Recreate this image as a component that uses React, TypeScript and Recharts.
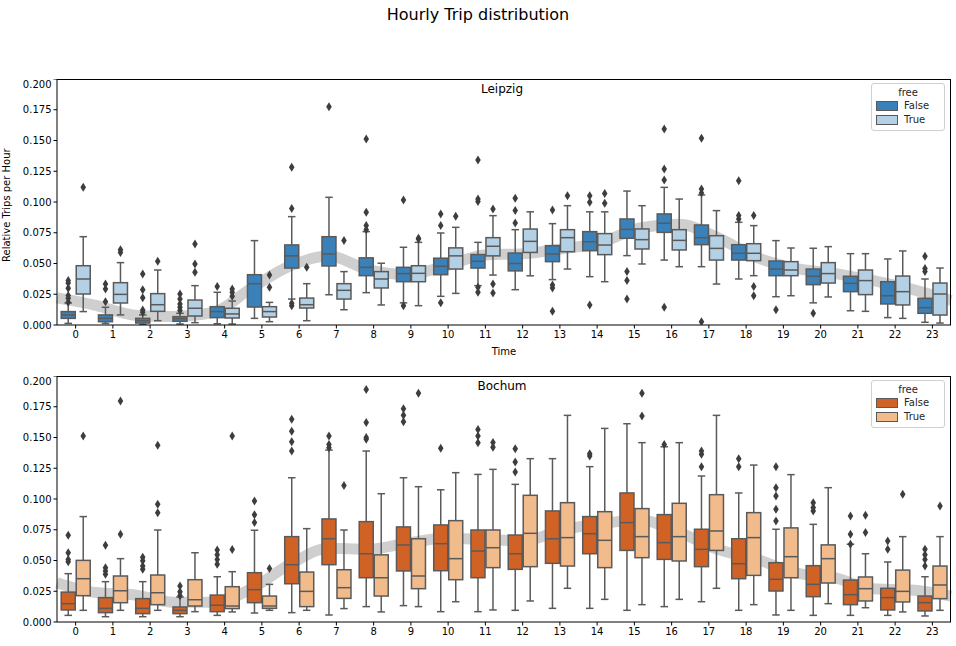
import React from 'react';
import { ComposedChart, Bar, Line, XAxis, YAxis } from 'recharts';

const hours = Array.from({ length: 24 }, (_, i) => String(i));
const yTicks = [0, 0.025, 0.05, 0.075, 0.1, 0.125, 0.15, 0.175, 0.2];

// [whisker low, q1, median, q3, whisker high]
const leipzigFalse = [
  [0.0013, 0.0054, 0.0082, 0.0109, 0.0179], [0.0013, 0.0027, 0.0054, 0.0082, 0.0144], [0.0005, 0.0016, 0.0035, 0.0054, 0.0082],
  [0.0008, 0.003, 0.0051, 0.0068, 0.0095], [0.001, 0.006, 0.0109, 0.0149, 0.0266], [0.0054, 0.0146, 0.0336, 0.0409, 0.0686],
  [0.0211, 0.0463, 0.0562, 0.0651, 0.0881], [0.0246, 0.048, 0.0577, 0.0718, 0.1038], [0.0263, 0.0401, 0.0469, 0.0546, 0.0759],
  [0.018, 0.0352, 0.0418, 0.0469, 0.0632], [0.0233, 0.0409, 0.0477, 0.0543, 0.0748], [0.032, 0.0463, 0.0518, 0.0573, 0.0672],
  [0.0287, 0.044, 0.05, 0.0585, 0.0775], [0.0369, 0.0515, 0.0577, 0.0645, 0.0824], [0.0393, 0.0604, 0.0677, 0.0759, 0.092],
  [0.0564, 0.0705, 0.0778, 0.0862, 0.1089], [0.0528, 0.0753, 0.0827, 0.0903, 0.1119], [0.0474, 0.0653, 0.071, 0.0813, 0.1057],
  [0.0374, 0.0528, 0.0583, 0.0653, 0.0835], [0.023, 0.0401, 0.0455, 0.052, 0.0686], [0.018, 0.0328, 0.0396, 0.0455, 0.0624],
  [0.0116, 0.0271, 0.0339, 0.0396, 0.058], [0.006, 0.0171, 0.0238, 0.0352, 0.0537], [0.0022, 0.0095, 0.0141, 0.0217, 0.0374],
];
const leipzigFalseOut = [
  [0.0184, 0.0217, 0.0239, 0.0299, 0.0342, 0.0361], [0.019, 0.0293, 0.0333], [0.0103, 0.0122, 0.0222, 0.0287, 0.0414],
  [0.0117, 0.0144, 0.0171, 0.0211, 0.0252], [0.0314], [],
  [0.0157, 0.0176, 0.0948, 0.1282], [0.1775], [0.0775, 0.0808, 0.0916, 0.1512],
  [0.0157, 0.1016], [0.018, 0.0808, 0.0902], [0.0266, 0.0306, 0.1005, 0.1024, 0.1341],
  [0.083, 0.093, 0.103], [0.0111, 0.03, 0.0326, 0.0935], [0.0163, 0.0997, 0.105],
  [0.0211, 0.0361, 0.0434], [0.0144, 0.1179, 0.1268, 0.1593], [0.0027, 0.1073, 0.1106, 0.1518],
  [0.0862, 0.089, 0.1173], [0.0124], [0.0095],
  [], [], [0.0434, 0.046, 0.0558],
];
const leipzigTrue = [
  [0.0109, 0.0252, 0.0374, 0.0482, 0.0718], [0.0082, 0.0179, 0.0249, 0.0344, 0.0507], [0.0035, 0.0111, 0.0165, 0.0255, 0.0447],
  [0.0019, 0.0073, 0.0136, 0.0203, 0.032], [0.0008, 0.0057, 0.009, 0.0136, 0.0195], [0.0027, 0.0065, 0.0109, 0.0149, 0.0184],
  [0.0035, 0.0138, 0.0165, 0.0219, 0.0336], [0.0124, 0.0211, 0.0282, 0.0336, 0.0434], [0.0163, 0.0301, 0.0374, 0.0434, 0.0502],
  [0.0157, 0.0352, 0.042, 0.0482, 0.0672], [0.0257, 0.0455, 0.0562, 0.0627, 0.0794], [0.0406, 0.0562, 0.064, 0.071, 0.0889],
  [0.04, 0.059, 0.068, 0.078, 0.092], [0.0455, 0.0596, 0.071, 0.0775, 0.097], [0.0352, 0.0572, 0.065, 0.0743, 0.092],
  [0.0496, 0.0618, 0.0694, 0.0781, 0.097], [0.0474, 0.061, 0.0688, 0.0775, 0.1024], [0.0333, 0.0528, 0.0623, 0.0726, 0.093],
  [0.0401, 0.0523, 0.0583, 0.0661, 0.0808], [0.0238, 0.0401, 0.0447, 0.0515, 0.0626], [0.0228, 0.0341, 0.0418, 0.0507, 0.0637],
  [0.0111, 0.0247, 0.0361, 0.0447, 0.058], [0.0054, 0.0163, 0.0271, 0.0398, 0.0602], [0.0016, 0.0081, 0.0252, 0.0341, 0.0463],
];
const leipzigTrueOut = [
  [0.1119], [0.059, 0.0612], [0.0518], [0.0428, 0.0496, 0.0659], [0.0233, 0.0266, 0.0293], [0.0306, 0.0406],
  [0.0469], [0.0688], [], [0.0699, 0.0705], [0.0884], [0.026, 0.0333, 0.0943],
  [], [0.105], [0.099, 0.107], [], [], [],
  [0.0238, 0.0314, 0.089], [], [], [], [], [],
];
const leipzigMean = [
  0.022, 0.016, 0.008, 0.007, 0.01, 0.03, 0.048, 0.056, 0.045, 0.041, 0.048, 0.057,
  0.058, 0.062, 0.067, 0.079, 0.082, 0.071, 0.055, 0.046, 0.042, 0.036, 0.029, 0.02,
];

const bochumFalse = [
  [0.0054, 0.0098, 0.0149, 0.0243, 0.0393], [0.0043, 0.0076, 0.0111, 0.0198, 0.0328], [0.0043, 0.0068, 0.0111, 0.019, 0.0328],
  [0.0043, 0.0068, 0.0095, 0.0122, 0.0203], [0.0054, 0.0084, 0.0136, 0.0219, 0.0368], [0.0073, 0.0157, 0.0263, 0.0401, 0.0746],
  [0.0076, 0.0311, 0.0466, 0.0694, 0.1173], [0.0057, 0.0466, 0.0677, 0.0838, 0.1398], [0.0125, 0.036, 0.0555, 0.0816, 0.139],
  [0.0133, 0.0415, 0.0626, 0.0773, 0.1173], [0.0084, 0.0417, 0.0637, 0.0789, 0.1075], [0.0084, 0.036, 0.0577, 0.0748, 0.12],
  [0.0095, 0.0428, 0.0555, 0.0707, 0.1119], [0.0111, 0.0477, 0.0677, 0.0903, 0.1328], [0.0111, 0.0555, 0.0718, 0.0857, 0.1263],
  [0.0095, 0.0582, 0.0808, 0.1049, 0.1612], [0.0125, 0.0509, 0.0645, 0.0873, 0.1425], [0.0165, 0.045, 0.0591, 0.0754, 0.1187],
  [0.0095, 0.0352, 0.0474, 0.0677, 0.1049], [0.0057, 0.0252, 0.0347, 0.0482, 0.0754], [0.0054, 0.0206, 0.0306, 0.0458, 0.0794],
  [0.0054, 0.0141, 0.0222, 0.0341, 0.0632], [0.0054, 0.0098, 0.0198, 0.0274, 0.0488], [0.0049, 0.009, 0.0157, 0.0211, 0.0368],
];
const bochumFalseOut = [
  [0.049, 0.0509, 0.0563, 0.0705], [0.0388, 0.0415, 0.0442, 0.0624], [0.0428, 0.0455, 0.0498, 0.0526],
  [0.0214, 0.0245, 0.0292], [0.047, 0.0509, 0.0547, 0.0585], [0.0808, 0.0871, 0.0984],
  [0.139, 0.1465, 0.1551, 0.1648], [0.1417, 0.1444, 0.1512], [0.1485, 0.1499, 0.1621, 0.189],
  [0.1629, 0.168, 0.1734], [0.1412], [0.1458, 0.1512, 0.1566],
  [0.1219, 0.1301, 0.1409], [], [0.1349, 0.1368],
  [], [0.1444], [0.1263, 0.1363, 0.139],
  [0.1263, 0.1328], [0.0821, 0.0916, 0.1024, 0.1092, 0.1263], [0.0903, 0.093, 0.097],
  [0.0632, 0.0713, 0.0862], [0.0591, 0.0659], [0.0455, 0.0509, 0.0547, 0.0591],
];
const bochumTrue = [
  [0.0095, 0.0214, 0.0352, 0.0501, 0.0857], [0.0095, 0.0157, 0.0254, 0.0374, 0.0515], [0.0095, 0.0141, 0.0238, 0.0382, 0.0748],
  [0.0084, 0.013, 0.0181, 0.0344, 0.0563], [0.0082, 0.0109, 0.013, 0.0287, 0.0409], [0.0095, 0.0111, 0.013, 0.0211, 0.0306],
  [0.0095, 0.0125, 0.0249, 0.0406, 0.0759], [0.0109, 0.0192, 0.0279, 0.0425, 0.0748], [0.0082, 0.0211, 0.036, 0.0546, 0.1043],
  [0.0125, 0.0271, 0.0374, 0.0677, 0.11], [0.0165, 0.0344, 0.0515, 0.0824, 0.1214], [0.0098, 0.0442, 0.0604, 0.0748, 0.1241],
  [0.0171, 0.045, 0.0721, 0.103, 0.1328], [0.0274, 0.0455, 0.0686, 0.097, 0.168], [0.0184, 0.0442, 0.0664, 0.0897, 0.1574],
  [0.0141, 0.0523, 0.0694, 0.0922, 0.1458], [0.0184, 0.0496, 0.0694, 0.0965, 0.1458], [0.0274, 0.0582, 0.074, 0.1035, 0.168],
  [0.0141, 0.0379, 0.0686, 0.0889, 0.1276], [0.0095, 0.036, 0.0531, 0.0765, 0.1198], [0.0149, 0.0317, 0.0515, 0.0627, 0.1092],
  [0.0116, 0.0171, 0.0271, 0.0366, 0.0555], [0.0082, 0.0163, 0.0249, 0.0422, 0.0694], [0.0095, 0.019, 0.0301, 0.0455, 0.0694],
];
const bochumTrueOut = [
  [0.1512], [0.0713, 0.1797], [0.0889, 0.0957, 0.1436], [], [0.059, 0.1512], [0.0434],
  [], [0.111], [], [0.1859], [], [0.142, 0.146],
  [], [], [], [0.1675, 0.1859], [], [],
  [], [], [], [0.0727, 0.0868], [0.1038], [0.0943],
];
const bochumMean = [
  0.032, 0.024, 0.022, 0.016, 0.016, 0.027, 0.047, 0.06, 0.059, 0.064, 0.068, 0.067,
  0.066, 0.075, 0.08, 0.083, 0.073, 0.059, 0.051, 0.04, 0.036, 0.027, 0.026, 0.021,
];

const FONT = '"DejaVu Sans", sans-serif';
const EDGE = '#5a5a5a';
const W = 956;
const H = 300;
const MARGIN = { top: 0, right: 5, bottom: 24, left: 12 };

const buildRows = (f: number[][], fo: number[][], t: number[][], to: number[][], mean: number[]) =>
  hours.map((h, i) => ({ hour: h, f: f[i], fo: fo[i], t: t[i], to: to[i], mean: mean[i] }));

const makeBox = (key: 'f' | 't', fill: string) => (props: any) => {
  const { x, y, width, height, payload } = props;
  const st: number[] = payload[key];
  const outs: number[] = payload[key === 'f' ? 'fo' : 'to'];
  const top = Math.min(y, y + height);
  const bot = Math.max(y, y + height);
  const lo = st[0];
  const hi = st[4];
  const py = (v: number) => bot - ((v - lo) * (bot - top)) / (hi - lo);
  const bx = x + 0.5;
  const bw = width - 1;
  const cx = x + width / 2;
  const cap = width / 4;
  return (
    <g>
      <line x1={cx} x2={cx} y1={py(st[0])} y2={py(st[1])} stroke={EDGE} strokeWidth={1.5} />
      <line x1={cx} x2={cx} y1={py(st[3])} y2={py(st[4])} stroke={EDGE} strokeWidth={1.5} />
      <line x1={cx - cap} x2={cx + cap} y1={py(st[0])} y2={py(st[0])} stroke={EDGE} strokeWidth={1.5} />
      <line x1={cx - cap} x2={cx + cap} y1={py(st[4])} y2={py(st[4])} stroke={EDGE} strokeWidth={1.5} />
      <rect x={bx} y={py(st[3])} width={bw} height={py(st[1]) - py(st[3])} fill={fill} stroke={EDGE} strokeWidth={1.5} />
      <line x1={bx} x2={bx + bw} y1={py(st[2])} y2={py(st[2])} stroke={EDGE} strokeWidth={1.5} />
      {outs.map((v, i) => {
        const oy = py(v);
        return <path key={i} d={`M${cx},${oy - 4.5}L${cx + 2.8},${oy}L${cx},${oy + 4.5}L${cx - 2.8},${oy}Z`} fill="#3d3d3d" />;
      })}
    </g>
  );
};

const Legend = ({ top, colors }: { top: number; colors: string[] }) => (
  <div style={{ position: 'absolute', left: 871, top, width: 74, height: 48, border: '1px solid #d0d0d0', borderRadius: 3, background: 'rgba(255,255,255,0.85)', fontFamily: FONT, fontSize: 10, color: '#262626', boxSizing: 'border-box' }}>
    <div style={{ textAlign: 'center', marginTop: 3 }}>free</div>
    {['False', 'True'].map((n, i) => (
      <div key={n} style={{ display: 'flex', alignItems: 'center', marginLeft: 4, marginTop: i === 0 ? 2 : 3 }}>
        <span style={{ display: 'inline-block', width: 20, height: 8, background: colors[i], border: `1px solid ${EDGE}`, marginRight: 6 }} />
        <span>{n}</span>
      </div>
    ))}
  </div>
);

const Panel = ({ title, rows, colors, showXLabel, showYLabel }: any) => (
  <div style={{ position: 'relative' }}>
    {/* band chart underneath the boxes */}
    <div style={{ position: 'absolute', left: 0, top: 0 }}>
      <ComposedChart width={W} height={H} data={rows} margin={MARGIN}>
        <XAxis dataKey="hour" type="category" height={30} tick={false} tickLine={false} axisLine={false} />
        <YAxis domain={[0, 0.2]} type="number" width={45} tick={false} tickLine={false} axisLine={false} />
        <Line dataKey="mean" type="monotone" stroke="#cfcfcf" strokeWidth={11} dot={false} activeDot={false} isAnimationActive={false} />
      </ComposedChart>
    </div>
    <div style={{ position: 'absolute', left: 0, top: 0 }}>
      <ComposedChart width={W} height={H} data={rows} margin={MARGIN} barCategoryGap="10%" barGap={0}>
        <XAxis dataKey="hour" type="category" interval={0} tickLine={{ stroke: '#000' }} tickSize={3.5} axisLine={{ stroke: '#000' }} tick={{ fill: '#000', fontSize: 10, fontFamily: FONT }} height={30}
          label={showXLabel ? { value: 'Time', position: 'insideBottom', offset: 0, fill: '#000', fontSize: 10, fontFamily: FONT } : undefined} />
        <YAxis domain={[0, 0.2]} ticks={yTicks} type="number" allowDataOverflow width={45} tickSize={3.5} tickLine={{ stroke: '#000' }} axisLine={{ stroke: '#000' }}
          tickFormatter={(v: number) => v.toFixed(3)} tick={{ fill: '#000', fontSize: 10, fontFamily: FONT }}
          label={showYLabel ? { value: 'Relative Trips per Hour', angle: -90, position: 'insideLeft', offset: -6, dy: 60, fill: '#000', fontSize: 10, fontFamily: FONT } : undefined} />
        <Bar dataKey={(d: any) => [d.f[0], d.f[4]]} shape={makeBox('f', colors[0])} isAnimationActive={false} />
        <Bar dataKey={(d: any) => [d.t[0], d.t[4]]} shape={makeBox('t', colors[1])} isAnimationActive={false} />
      </ComposedChart>
    </div>
    <div style={{ position: 'absolute', left: 57, top: 0, width: 894, height: 246, border: '1px solid #000', borderLeft: 'none', borderBottom: 'none', boxSizing: 'border-box', pointerEvents: 'none' }} />
    <div style={{ position: 'absolute', left: 0, width: 1004, top: 3, textAlign: 'center', fontFamily: FONT, fontSize: 12, color: '#000' }}>{title}</div>
  </div>
);

const leipzigRows = buildRows(leipzigFalse, leipzigFalseOut, leipzigTrue, leipzigTrueOut, leipzigMean);
const bochumRows = buildRows(bochumFalse, bochumFalseOut, bochumTrue, bochumTrueOut, bochumMean);

export default function App() {
  return (
    <div style={{ position: 'absolute', left: 0, top: 0, width: 956, height: 646, background: '#fff' }}>
      <div style={{ position: 'absolute', top: 5, width: 956, textAlign: 'center', fontFamily: FONT, fontSize: 16, color: '#000' }}>Hourly Trip distribution</div>
      <div style={{ position: 'absolute', left: 0, top: 79 }}>
        <Panel title="Leipzig" rows={leipzigRows} colors={['#3a81ba', '#b3d0e4']} showXLabel showYLabel />
      </div>
      <div style={{ position: 'absolute', left: 0, top: 376 }}>
        <Panel title="Bochum" rows={bochumRows} colors={['#d16225', '#f1bb8b']} />
      </div>
      <Legend top={83} colors={['#3a81ba', '#b3d0e4']} />
      <Legend top={380} colors={['#d16225', '#f1bb8b']} />
    </div>
  );
}
